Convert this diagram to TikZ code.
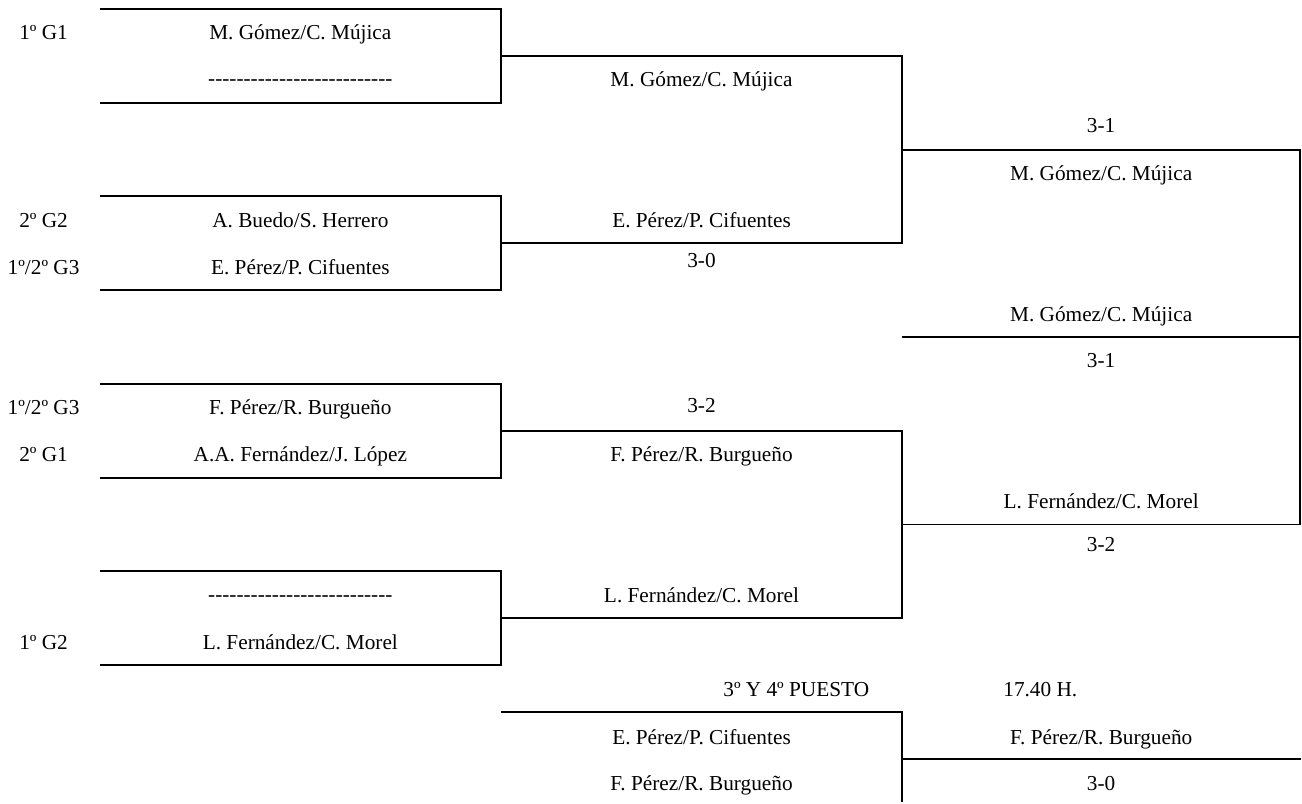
\documentclass[tikz,border=0pt]{standalone}
\usepackage{fontspec}
\setmainfont{Liberation Serif}[Ligatures=TeXOff]
\usetikzlibrary{positioning}

\newcommand{\vacante}{--------------------------}

\begin{document}
\begin{tikzpicture}[x=1cm, y=-0.7739cm,
                seed/.style={anchor=base, font=\fontsize{10}{12}\selectfont},
                team/.style={anchor=base, font=\fontsize{10}{12}\selectfont},
                score/.style={anchor=base, font=\fontsize{10}{12}\selectfont},
                bracket/.style={line width=0.9pt}
            ]

                \fill[white] (0,-0.192) rectangle (21.486,16.93);

                % salidas de cada ronda
                \coordinate (q1) at (8.268,1);
                \coordinate (q2) at (8.268,5);
                \coordinate (q3) at (8.268,9);
                \coordinate (q4) at (8.268,13);
                \coordinate (sf1) at (14.901,3);
                \coordinate (sf2) at (14.901,11);
                \coordinate (fin) at (21.469,7);

                % cuartos
                \draw[bracket] (1.65,0) -| (8.268,2) -- (1.65,2);
                \draw[bracket] (1.65,4) -| (8.268,6) -- (1.65,6);
                \draw[bracket] (1.65,8) -| (8.268,10) -- (1.65,10);
                \draw[bracket] (1.65,12) -| (8.268,14) -- (1.65,14);

                % semifinales
                \draw[bracket] (q1) -- (sf1 |- q1) -- (sf1 |- q2) -- (q2);
                \draw[bracket] (q3) -- (sf2 |- q3) -- (sf2 |- q4) -- (q4);

                % final
                \draw[bracket] (sf1) -- (fin |- sf1) -- (fin |- sf2) -- (sf2);
                \draw[bracket] (sf1 |- fin) -- (fin);

                % 3 y 4 puesto
                \coordinate (p3) at (8.268,15);
                \coordinate (p4) at (14.901,16);
                \draw[bracket] (p3) -| (p4 |- 0,16.93);
                \draw[bracket] (p4) -- (21.486,16);

                \node[seed] (g1a) at (0.72,0.66) {1º G1};
                \node[seed] (g2b) at (0.72,4.66) {2º G2};
                \node[seed] (g3a) at (0.72,5.66) {1º/2º G3};
                \node[seed] (g3b) at (0.72,8.66) {1º/2º G3};
                \node[seed] (g1b) at (0.72,9.66) {2º G1};
                \node[seed] (g2a) at (0.72,13.66) {1º G2};

                \node[team] (c1) at (4.96,0.66) {M. Gómez/C. Mújica};
                \node[team] (c2) at (4.96,1.64) {\vacante};
                \node[team] (c3) at (4.96,4.66) {A. Buedo/S. Herrero};
                \node[team] (c4) at (4.96,5.66) {E. Pérez/P. Cifuentes};
                \node[team] (c5) at (4.96,8.66) {F. Pérez/R. Burgueño};
                \node[team] (c6) at (4.96,9.66) {A.A. Fernández/J. López};
                \node[team] (c7) at (4.96,12.64) {\vacante};
                \node[team] (c8) at (4.96,13.66) {L. Fernández/C. Morel};

                \node[team] (s1) at (11.585,1.66) {M. Gómez/C. Mújica};
                \node[team] (s2) at (11.585,4.66) {E. Pérez/P. Cifuentes};
                \node[score] (r2) at (11.585,5.52) {3-0};
                \node[score] (r3) at (11.585,8.60) {3-2};
                \node[team] (s3) at (11.585,9.66) {F. Pérez/R. Burgueño};
                \node[team] (s4) at (11.585,12.66) {L. Fernández/C. Morel};

                \node[score] (r1) at (18.185,2.63) {3-1};
                \node[team] (f1) at (18.185,3.66) {M. Gómez/C. Mújica};
                \node[team] (w) at (18.185,6.66) {M. Gómez/C. Mújica};
                \node[score] (rf) at (18.185,7.65) {3-1};
                \node[team] (f2) at (18.185,10.66) {L. Fernández/C. Morel};
                \node[score] (r4) at (18.185,11.58) {3-2};

                \node[team] (tit) at (13.15,14.67) {3º Y 4º PUESTO};
                \node[team] (hora) at (17.18,14.67) {17.40 H.};
                \node[team] (b1) at (11.585,15.69) {E. Pérez/P. Cifuentes};
                \node[team] (b2) at (11.585,16.67) {F. Pérez/R. Burgueño};
                \node[team] (b3) at (18.185,15.69) {F. Pérez/R. Burgueño};
                \node[score] (rb) at (18.185,16.67) {3-0};

            \end{tikzpicture}
\end{document}
